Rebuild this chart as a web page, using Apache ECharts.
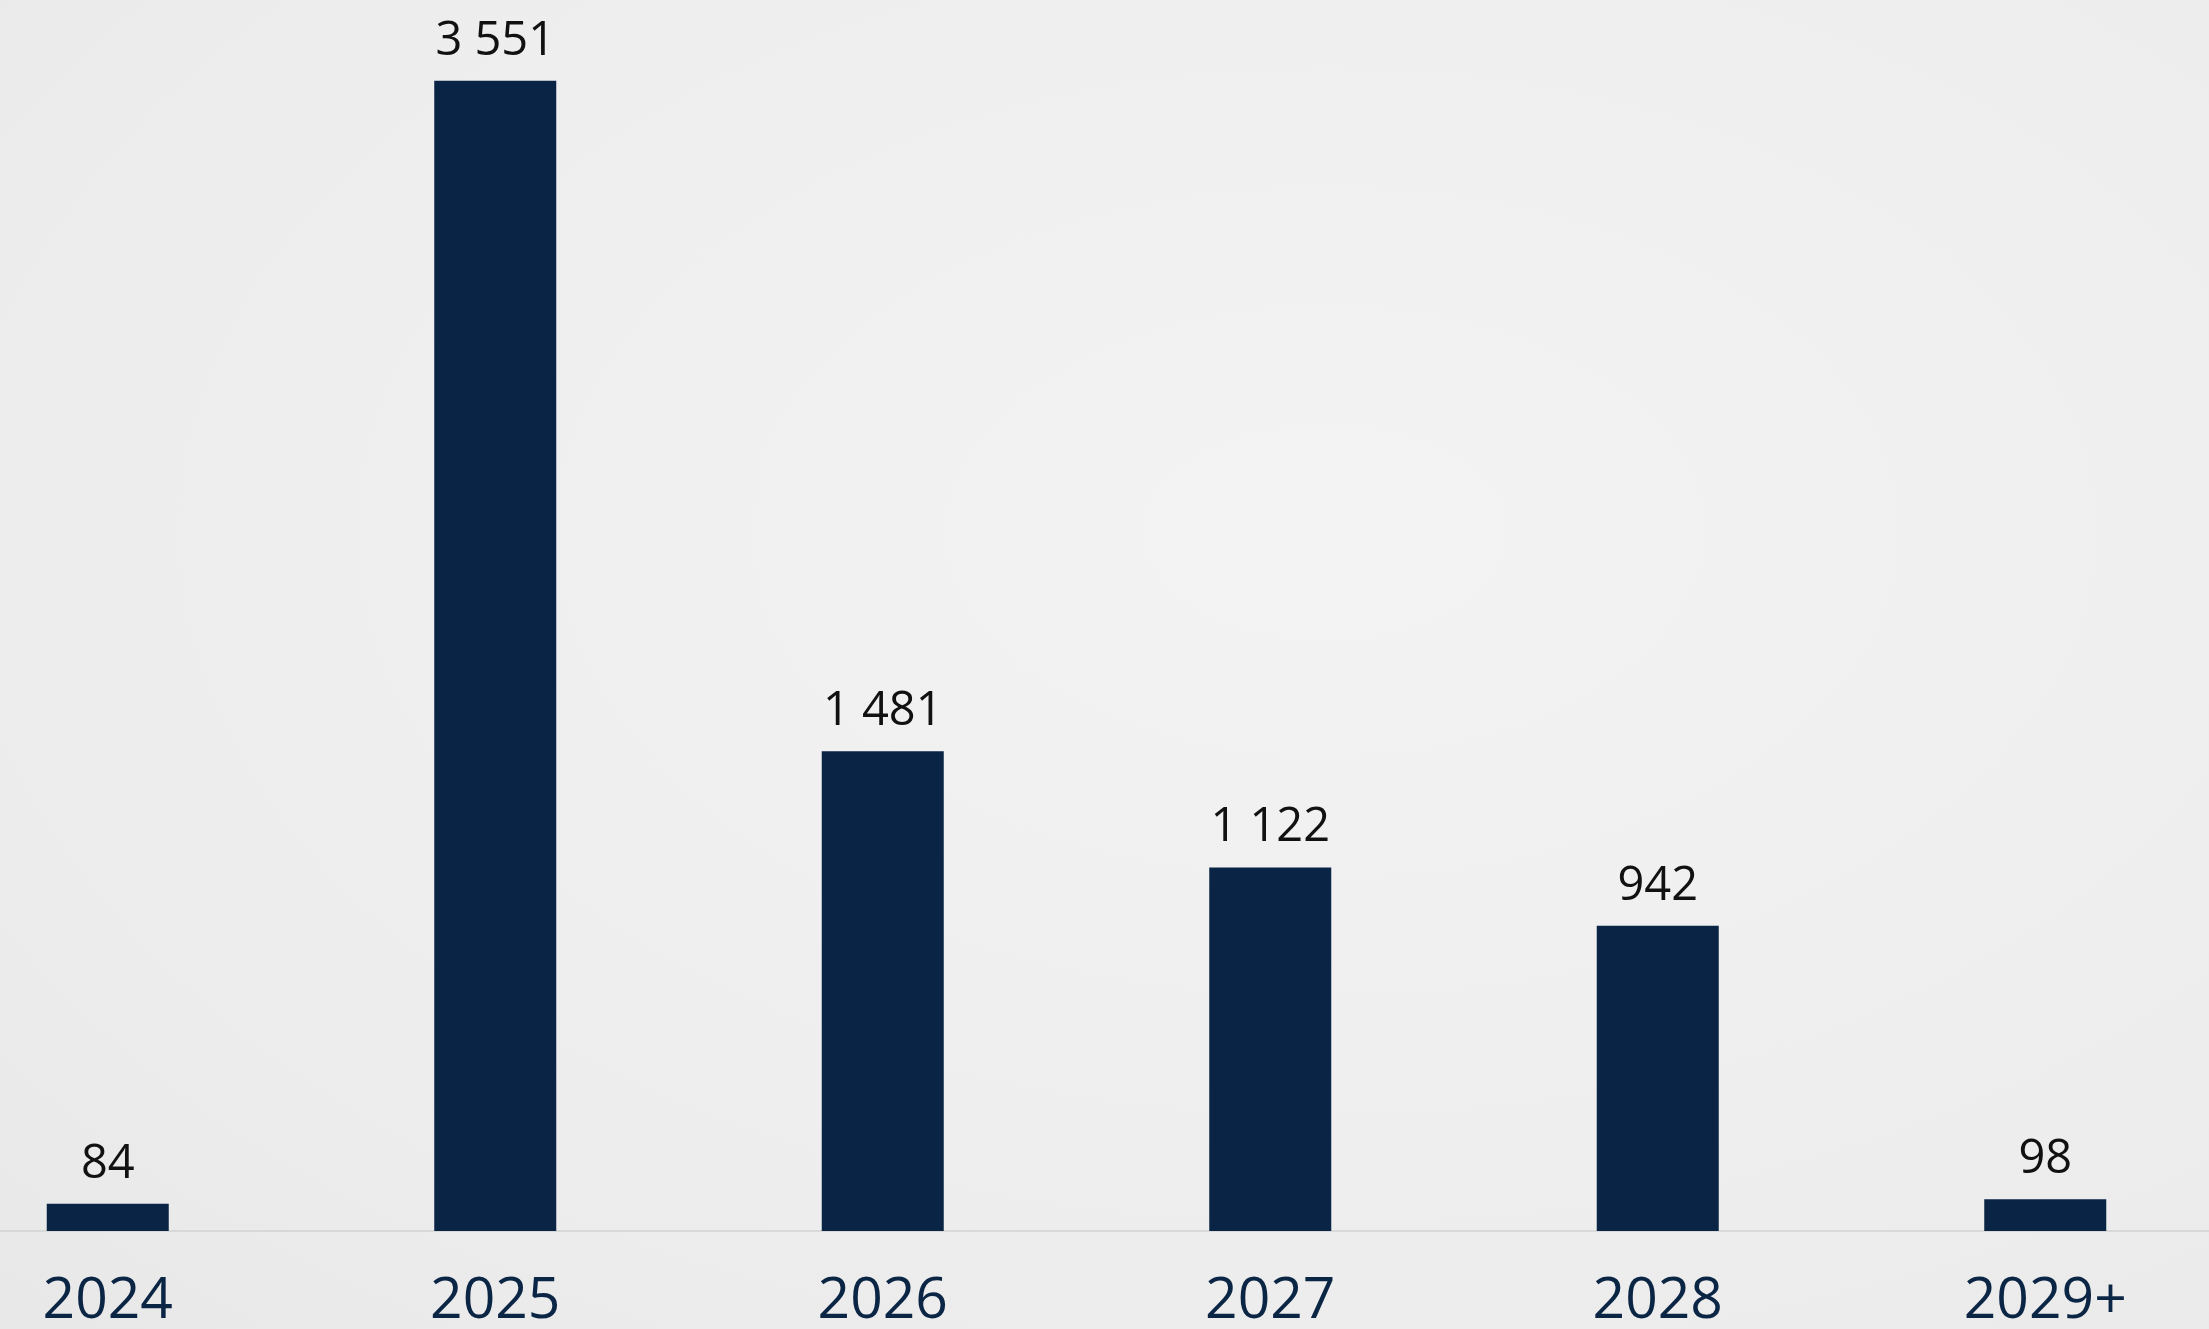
<!DOCTYPE html>
<html>
<head>
<meta charset="utf-8">
<script src="https://cdn.jsdelivr.net/npm/echarts@6/dist/echarts.min.js"></script>
<style>
html,body{margin:0;padding:0;}
#chart{width:2209px;height:1329px;background:radial-gradient(ellipse at 60% 40%, #f3f3f3 0%, #eeeeee 60%, #e8e8e8 100%);}
</style>
</head>
<body>
<div id="chart"></div>
<script>
const categories = ['2024', '2025', '2026', '2027', '2028', '2029+'];
const values = [84, 3551, 1481, 1122, 942, 98];

const chart = echarts.init(document.getElementById('chart'), null, {renderer: 'canvas'});
chart.setOption({
  backgroundColor: 'transparent',
  animation: false,
  grid: {left: -86, right: -30, top: 0, bottom: 98, containLabel: false, outerBoundsMode: 'none'},
  xAxis: {
    type: 'category',
    data: categories,
    boundaryGap: true,
    axisLine: {show: true, lineStyle: {color: '#d2d2d2', width: 1.5}},
    axisTick: {show: false},
    axisLabel: {
      color: '#0b2545',
      fontFamily: 'Open Sans',
      fontSize: 57,
      margin: 42
    }
  },
  yAxis: {
    type: 'value',
    min: 0,
    max: 3800,
    show: false,
    splitLine: {show: false}
  },
  series: [{
    type: 'bar',
    data: values,
    barWidth: 122,
    itemStyle: {color: '#0a2446'},
    label: {
      show: true,
      position: 'top',
      distance: 16,
      color: '#111111',
      fontFamily: 'Open Sans',
      fontSize: 47,
      formatter: p => String(p.value).replace(/\B(?=(\d{3})+(?!\d))/g, ' ')
    }
  }]
});
</script>
</body>
</html>
